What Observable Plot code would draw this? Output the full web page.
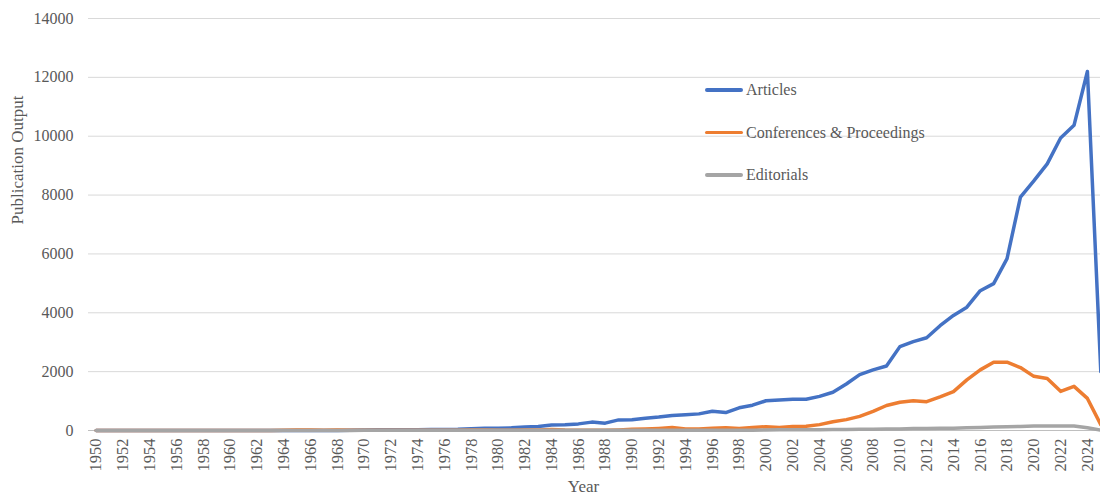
<!DOCTYPE html>
<html>
<head>
<meta charset="utf-8">
<script src="https://cdn.jsdelivr.net/npm/d3@7"></script>
<script src="https://cdn.jsdelivr.net/npm/@observablehq/plot@0.6"></script>
<style>
  html, body { margin: 0; padding: 0; background: #fff; overflow: hidden; }
  #wrap { position: relative; width: 1100px; height: 494px; }
  #legend { position: absolute; left: 705px; top: 78px; font-family: "Liberation Serif", "Times New Roman", serif; font-size: 16px; color: #595959; }
  #legend .item { display: flex; align-items: center; height: 24px; margin-bottom: 18.5px; }
  #legend .swatch { width: 38px; height: 3.5px; border-radius: 2px; margin-right: 3px; }
</style>
</head>
<body>
<div id="wrap"><div id="legend"></div></div>
<script>
// Publication years
const years = [
  1950, 1951, 1952, 1953, 1954, 1955, 1956, 1957, 1958, 1959,
  1960, 1961, 1962, 1963, 1964, 1965, 1966, 1967, 1968, 1969,
  1970, 1971, 1972, 1973, 1974, 1975, 1976, 1977, 1978, 1979,
  1980, 1981, 1982, 1983, 1984, 1985, 1986, 1987, 1988, 1989,
  1990, 1991, 1992, 1993, 1994, 1995, 1996, 1997, 1998, 1999,
  2000, 2001, 2002, 2003, 2004, 2005, 2006, 2007, 2008, 2009,
  2010, 2011, 2012, 2013, 2014, 2015, 2016, 2017, 2018, 2019,
  2020, 2021, 2022, 2023, 2024, 2025
];

const articles = [
  0, 0, 0, 0, 0, 0, 0, 0, 0, 0,
  0, 0, 0, 0, 0, 0, 0, 0, 0, 5,
  20, 22, 25, 25, 28, 30, 35, 40, 60, 80,
  80, 90, 115, 135, 190, 195, 225, 285, 250, 360,
  365, 420, 455, 510, 535, 565, 655, 610, 770, 860,
  1010, 1040, 1060, 1060, 1160, 1300, 1580, 1900, 2060, 2190,
  2850, 3020, 3150, 3560, 3910, 4190, 4750, 4990, 5840, 7930,
  8480, 9060, 9940, 10370, 12200, 2000
];

const conferences = [
  0, 0, 0, 0, 0, 0, 0, 0, 0, 0,
  0, 0, 0, 0, 10, 15, 15, 10, 15, 10,
  10, 10, 10, 10, 10, 10, 10, 10, 15, 15,
  10, 10, 15, 20, 35, 15, 10, 10, 10, 20,
  40, 50, 70, 100, 50, 55, 75, 95, 70, 100,
  130, 100, 140, 145, 200, 300, 370, 480, 650, 850,
  960, 1010, 980, 1140, 1320, 1720, 2060, 2320, 2320, 2140,
  1840, 1770, 1330, 1500, 1090, 200
];

const editorials = [
  2, 2, 2, 2, 2, 2, 2, 2, 2, 2,
  2, 2, 2, 2, 2, 2, 2, 2, 2, 2,
  5, 5, 5, 5, 5, 5, 5, 5, 5, 5,
  5, 5, 5, 5, 5, 5, 5, 5, 5, 5,
  10, 10, 10, 10, 10, 10, 10, 10, 10, 10,
  20, 22, 25, 25, 28, 30, 35, 40, 45, 50,
  55, 65, 70, 75, 80, 90, 105, 115, 125, 135,
  150, 155, 155, 150, 95, 10
];

const seriesNames = ["Articles", "Conferences & Proceedings", "Editorials"];
const seriesColors = ["#4472C4", "#ED7D31", "#A5A5A5"];
const seriesValues = [articles, conferences, editorials];

const yTicks = [0, 2000, 4000, 6000, 8000, 10000, 12000, 14000];
const xTicks = years.filter((y, i) => i % 2 === 0 && y <= 2024);

// Long-format table: one row per series and year
const rows = seriesNames.flatMap((name, s) =>
  years.map((year, i) => ({ series: name, year, value: seriesValues[s][i] }))
);

const serif = "'Liberation Serif', 'Times New Roman', serif";

const chart = Plot.plot({
  width: 1100,
  height: 494,
  marginLeft: 88,
  marginRight: 0,
  marginTop: 18,
  marginBottom: 64,
  style: { fontFamily: serif, fontSize: "16px", color: "#595959", background: "white" },
  x: { domain: [1949.5, 2025.5], range: [89, 1107] },
  y: { domain: [0, 14000] },
  color: { domain: seriesNames, range: seriesColors },
  marks: [
    Plot.gridY(yTicks, { stroke: "#d9d9d9", strokeOpacity: 1, strokeWidth: 1 }),
    Plot.ruleY([0], { stroke: "#bfbfbf", strokeWidth: 1 }),
    Plot.axisY(yTicks, { tickSize: 0, tickPadding: 15, label: null, tickFormat: d => String(d) }),
    Plot.axisX(xTicks, { tickSize: 0, tickPadding: 8, tickRotate: -90, label: null, tickFormat: d => String(d), fontSize: 16.5 }),
    Plot.line(rows, {
      x: "year", y: "value", z: "series", stroke: "series",
      strokeWidth: 3.5, strokeLinejoin: "round", strokeLinecap: "round"
    }),
    Plot.text(["Publication Output"], { frameAnchor: "left", rotate: -90, dx: -71, fontSize: 17, fill: "#595959" }),
    Plot.text(["Year"], { frameAnchor: "bottom", dx: -11, dy: 61, fontSize: 17, fill: "#595959" })
  ]
});

const wrap = document.getElementById("wrap");
wrap.insertBefore(chart, wrap.firstChild);

// Legend inside the plot area
const legend = document.getElementById("legend");
seriesNames.forEach((name, i) => {
  const item = document.createElement("div");
  item.className = "item";
  const sw = document.createElement("div");
  sw.className = "swatch";
  sw.style.background = seriesColors[i];
  const label = document.createElement("span");
  label.textContent = name;
  item.appendChild(sw);
  item.appendChild(label);
  legend.appendChild(item);
});
</script>
</body>
</html>
